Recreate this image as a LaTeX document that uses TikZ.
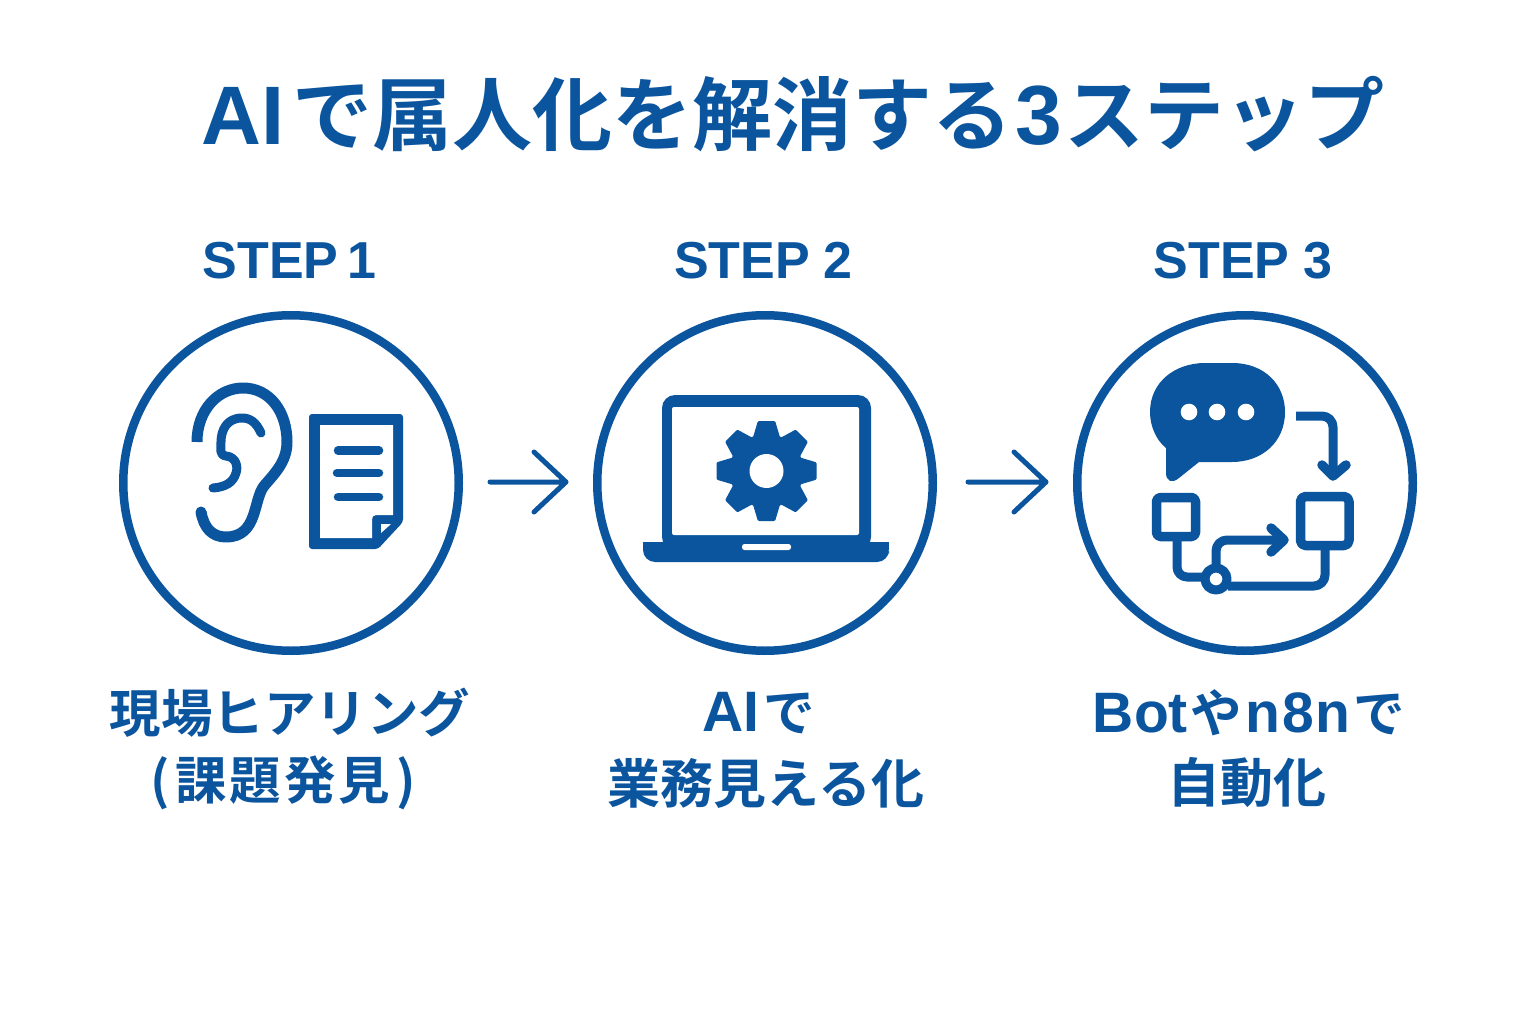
\documentclass[tikz,border=0pt]{standalone}
\usepackage{fontspec}
\setmainfont{Noto Sans CJK JP}[BoldFont={Noto Sans CJK JP Bold}]
\newfontfamily\latf{Liberation Sans}[BoldFont={Liberation Sans Bold}]
\newcommand{\fsz}[1]{\fontsize{#1}{#1}\selectfont\bfseries}
\newcommand{\lat}[2]{{\fontsize{#1}{#1}\latf\bfseries #2}}
\definecolor{mainblue}{HTML}{0B559F}
\tikzset{
  titletext/.style={text=mainblue,inner sep=0pt,font=\fsz{80}},
  steptext/.style={text=mainblue,inner sep=0pt,font=\fsz{50}},
  captext/.style={text=mainblue,inner sep=0pt,font=\fsz{51.5}},
  capwide/.style={text=mainblue,inner sep=0pt,font=\fsz{53}},
  ring/.style={draw=mainblue,line width=8.5pt,circle,minimum size=335.5pt,inner sep=0pt},
  flowarrow/.style={draw=mainblue,line width=5pt,line cap=round,line join=round},
  ico/.style={draw=mainblue,line width=9.5pt,line cap=round,line join=round},
}
\begin{document}
\begin{tikzpicture}[x=1pt,y=-1pt]
\useasboundingbox (0,0) rectangle (1536,1024);
\fill[white] (0,0) rectangle (1536,1024);
\node[titletext] (title) at (793,114) {\lat{83}{AI}\kern8ptで属人化を解消する\kern3pt\lat{84}{3}\kern2ptステップ};
\node[steptext] (s1) at (289.5,261) {\lat{52}{STEP\kern9pt1}};
\node[steptext] (s2) at (763.5,261) {\lat{52}{STEP\kern14pt2}};
\node[steptext] (s3) at (1243,261) {\lat{52}{STEP\kern14pt3}};
\node[ring] (c1) at (291,483) {};
\node[ring] (c2) at (765,483) {};
\node[ring] (c3) at (1245,483) {};
\coordinate (a1s) at (490,482); \coordinate (a1e) at (566,482);
\coordinate (a2s) at (968,482); \coordinate (a2e) at (1046,482);
\draw[flowarrow] (a1s) -- (a1e) (534,452) -- (a1e) -- (534,512);
\draw[flowarrow] (a2s) -- (a2e) (1014,452) -- (a2e) -- (1014,512);
\node[captext] (t1a) at (290,713) {現場ヒアリング};
\node[captext] (t1b) at (283,783) {(\kern6pt課\kern3pt題\kern3pt発\kern3pt見\kern6pt)};
\node[captext] (t2a) at (759,713) {\lat{57}{AI}\kern4ptで};
\node[capwide] (t2b) at (766,783) {業務見える化};
\node[captext] (t3a) at (1249,713) {\lat{57}{Bot}\kern3ptや\kern3pt\lat{57}{n\kern2pt8\kern2ptn}\kern3ptで};
\node[capwide] (t3b) at (1247,783) {自動化};
% ear
\draw[ico,line width=11pt,line cap=butt] (197,442) .. controls (197,410) and (218,388) .. (243,388)
  .. controls (270,388) and (287,412) .. (287,442)
  .. controls (287,462) and (274,474) .. (264,486)
  .. controls (253,500) and (258,537) .. (226,537)
  .. controls (212,537) and (204,528) .. (201,512);
\fill[mainblue] (201,512) circle[radius=5.5];
\draw[ico,line width=9pt] (261,433) .. controls (256,422) and (250,418) .. (242,418)
  .. controls (227,418) and (221,430) .. (221,442)
  .. controls (221,449) and (219,455) .. (226,456)
  .. controls (237,457) and (238,468) .. (236,473)
  .. controls (233,483) and (225,487) .. (213,488);
% doc
\fill[mainblue,rounded corners=3pt] (309,414) -- (403,414) -- (403,522) -- (378,549) -- (309,549) -- cycle;
\fill[white] (320,425) -- (393,425) -- (393,515) -- (376,515) .. controls (373,515) and (372,517) .. (372,520) -- (372,538) -- (320,538) -- cycle;
\fill[white] (381,524) -- (391,524) -- (381,533) -- cycle;
\draw[ico,line width=8.5pt] (338,450.5) -- (379,450.5) (337,473) -- (379,473) (338,497) -- (379,497);
% laptop
\fill[mainblue,rounded corners=13pt] (662,550) -- (662,395) -- (871,395) -- (871,550) -- cycle;
\fill[white,rounded corners=2pt] (672,407) rectangle (859,535);
\fill[mainblue,rounded corners=12pt] (643,542) -- (643,562) -- (889,562) -- (889,542) [sharp corners] -- cycle;
\fill[mainblue] (643,542) rectangle (889,550);
\fill[white,rounded corners=2.5pt] (742,544) rectangle (791,550);
\foreach \a in {0,45,...,315}{
  \fill[mainblue,draw=mainblue,line width=3pt,line join=round,shift={(766.5,471)},rotate=\a]
    (-13,-30) -- (-7.5,-48.5) -- (7.5,-48.5) -- (13,-30) -- cycle;
}
\fill[mainblue] (766.5,471) circle[radius=37];
\fill[white] (766.5,471) circle[radius=17];
% chat
\fill[mainblue] (1205,363) -- (1232,363) .. controls (1265,363) and (1285,385) .. (1285,412)
  .. controls (1285,442) and (1262,462) .. (1232,462) -- (1199,462)
  -- (1179,478) .. controls (1172,484) and (1166,481) .. (1166,473) -- (1166,448)
  .. controls (1156,440) and (1150,426) .. (1150,412)
  .. controls (1150,382) and (1175,363) .. (1205,363) -- cycle;
\fill[white] (1189,412) circle[radius=8.3] (1217,412) circle[radius=8.3] (1246,412) circle[radius=8.3];
% down arrow
\draw[ico,line width=9pt,line cap=butt,rounded corners=11pt] (1296,416) -- (1333,416) -- (1333,470);
\draw[ico,line width=9.5pt] (1322,465) -- (1333,476) -- (1346,465);
% boxes
\draw[ico,rounded corners=4pt] (1156.5,497.5) rectangle (1195.5,536.5);
\draw[ico,rounded corners=5pt] (1300.5,496.5) rectangle (1349,545.5);
% connectors
\draw[ico,line width=9pt,line cap=butt,rounded corners=10pt] (1177,541) -- (1177,577) -- (1207,577);
\draw[ico,line width=9pt,line cap=butt,rounded corners=11pt] (1216,568) -- (1216,540) -- (1283,540);
\draw[ico,line width=9.5pt] (1271,528) -- (1284,540) -- (1271,552);
\draw[ico,line width=9pt,line cap=butt,rounded corners=11pt] (1228,586) -- (1325,586) -- (1325,550);
\draw[ico,line width=9pt,fill=white] (1216,579) circle[radius=11];
\end{tikzpicture}
\end{document}
